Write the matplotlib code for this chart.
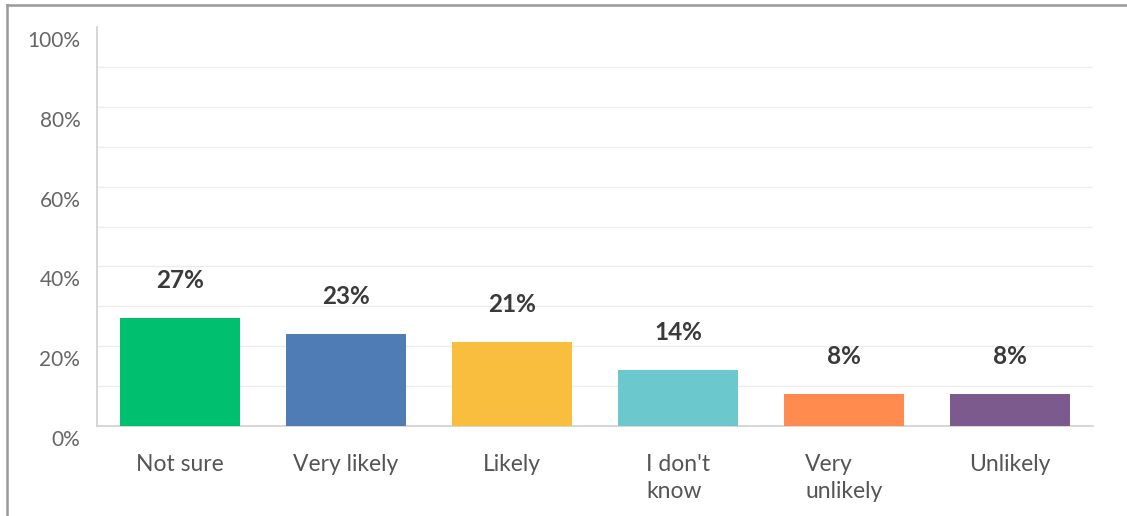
import matplotlib.pyplot as plt
from matplotlib.lines import Line2D
from matplotlib.transforms import ScaledTranslation

plt.rcParams['font.family'] = ['Lato', 'DejaVu Sans']

answers = ['Not sure', 'Very likely', 'Likely', "I don't\nknow", 'Very\nunlikely', 'Unlikely']
percents = [27, 23, 21, 14, 8, 8]
colors = ['#00bf6f', '#507cb6', '#f9be3d', '#6bc8cd', '#ff8b4f', '#7d5a8e']
yticks = [0, 20, 40, 60, 80, 100]

fig = plt.figure(figsize=(11.27, 5.16), dpi=100)
ax = fig.add_axes([97 / 1127, 90 / 516, 996 / 1127, 399 / 516])

x = list(range(len(answers)))
ax.bar(x, percents, width=0.72, color=colors, zorder=3)

for xi, p in zip(x, percents):
    ax.annotate(f'{p}%', (xi, p), xytext=(0, 27), textcoords='offset points',
                ha='center', va='center', fontsize=17.5, fontweight='bold', color='#3a3a3a')

ax.set_xlim(-0.5, len(answers) - 0.5)
ax.set_ylim(0, 100)

# light grid every 10%
for g in range(10, 100, 10):
    ax.axhline(g, color='#ececec', lw=1, zorder=1)

ax.set_yticks(yticks)
ax.set_yticklabels([f'{t}%' for t in yticks], fontsize=15, color='#666666')
ax.set_xticks(x)
ax.set_xticklabels(answers, fontsize=16.5, color='#555555', linespacing=1.35,
                   multialignment='left', va='top')
ax.tick_params(axis='x', length=0, pad=20)
ax.tick_params(axis='y', length=0, pad=12)

# y labels sit a little below their grid lines
shift = ScaledTranslation(0, -12 / 100, fig.dpi_scale_trans)
for lab in ax.get_yticklabels():
    lab.set_transform(lab.get_transform() + shift)

for side in ['top', 'right']:
    ax.spines[side].set_visible(False)
ax.spines['left'].set_color('#d0d0d0')
ax.spines['bottom'].set_color('#d0d0d0')
ax.spines['left'].set_linewidth(1.2)
ax.spines['bottom'].set_linewidth(1.2)

# outer frame, top and left edges
fig.add_artist(Line2D([7 / 1127, 1], [1 - 5 / 516, 1 - 5 / 516], color='#999999', lw=1.8))
fig.add_artist(Line2D([7 / 1127, 7 / 1127], [0, 1 - 5 / 516], color='#999999', lw=1.8))

fig.savefig('out.png', dpi=100)
